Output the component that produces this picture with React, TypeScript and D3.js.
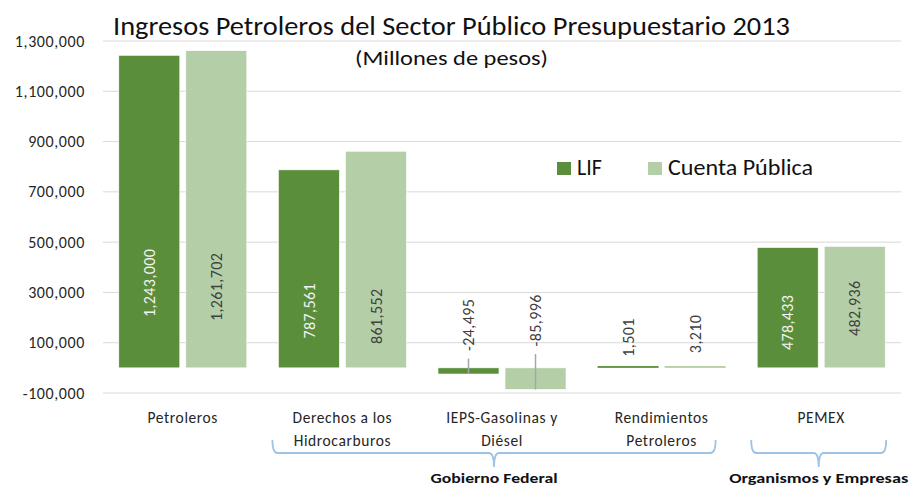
import React from "react";
import * as d3 from "d3";

// ---- data ----
const categories = ["Petroleros", "Derechos", "IEPS", "Rendimientos", "PEMEX"];
const categoryLines: string[][] = [
  ["Petroleros"],
  ["Derechos a los", "Hidrocarburos"],
  ["IEPS-Gasolinas y", "Diésel"],
  ["Rendimientos", "Petroleros"],
  ["PEMEX"],
];
const lifValues = [1243000, 787561, -24495, 1501, 478433];
const cpValues = [1261702, 861552, -85996, 3210, 482936];
const seriesNames = ["LIF", "Cuenta Pública"];
const yTicks = [-100000, 100000, 300000, 500000, 700000, 900000, 1100000, 1300000];
const groups = [
  { label: "Gobierno Federal", from: 1, to: 3 },
  { label: "Organismos y Empresas", from: 4, to: 4 },
];
const titleText = "Ingresos Petroleros del Sector Público Presupuestario 2013";
const subtitleText = "(Millones de pesos)";

// label anchor (value units) for the centre of each rotated data label
const lifLabelAt = [338000, 227000, 171000, 121000, 181000];
const cpLabelAt = [322000, 205000, 189000, 135000, 237000];

// ---- style ----
const W = 922;
const H = 487;
const FONT = "Calibri, Carlito, Lato, 'Open Sans', sans-serif";
const LIF_COLOR = "#5B8E3A";
const CP_COLOR = "#B4CFA7";
const GRID = "#D9D9D9";
const TEXT = "#262626";
const BRACE = "#9DC3E6";

const fmtBase = d3.format(",");
const fmt = (v: number) => fmtBase(v).replace("\u2212", "-");

export default function App() {
  const plotLeft = 103;
  const plotRight = 901;
  const y = d3.scaleLinear().domain([-100000, 1300000]).range([393, 41]);
  const x0 = d3
    .scaleBand<string>()
    .domain(categories)
    .range([plotLeft, plotRight])
    .paddingInner(0.198)
    .paddingOuter(0.099);
  const x1 = d3
    .scaleBand<string>()
    .domain(["LIF", "CP"])
    .range([0, x0.bandwidth()])
    .paddingInner(0.09);

  const series = [
    { key: "LIF", values: lifValues, color: LIF_COLOR, labelColor: "#F2F2F2", labelAt: lifLabelAt },
    { key: "CP", values: cpValues, color: CP_COLOR, labelColor: "#404040", labelAt: cpLabelAt },
  ];

  const bars: React.ReactNode[] = [];
  const labels: React.ReactNode[] = [];
  series.forEach((s) => {
    s.values.forEach((v, i) => {
      const bx = (x0(categories[i]) ?? 0) + (x1(s.key) ?? 0);
      const bw = x1.bandwidth();
      const top = y(Math.max(0, v));
      const bot = y(Math.min(0, v));
      const h = bot - top;
      const tiny = h < 3;
      bars.push(
        <rect
          key={`b-${s.key}-${i}`}
          x={bx}
          y={tiny ? bot - 1.8 : top}
          width={bw}
          height={tiny ? 1.8 : h}
          fill={s.color}
          stroke={tiny ? "none" : "#ffffff"}
          strokeWidth={0.6}
        />
      );
      const cx = bx + bw / 2;
      const cy = y(s.labelAt[i]);
      const big = Math.abs(v) > 100000;
      const txt = fmt(v);
      labels.push(
        <text
          key={`l-${s.key}-${i}`}
          transform={`translate(${cx},${cy}) rotate(-90)`}
          textAnchor="middle"
          dy="0.35em"
          fontSize={16}
          letterSpacing={0.4}
          fontFamily={FONT}
          fill={big ? s.labelColor : "#404040"}
        >
          {txt}
        </text>
      );
      if (v < 0) {
        const textHalf = txt.length * 4.1;
        labels.push(
          <line
            key={`ll-${s.key}-${i}`}
            x1={cx}
            x2={cx}
            y1={cy + textHalf + 5}
            y2={y(v)}
            stroke="#A6A6A6"
            strokeWidth={1.5}
          />
        );
      }
    });
  });

  const bracePath = (xa: number, xb: number) => {
    const yTop = 440;
    const yMid = 453;
    const yTip = 467;
    const r = 5;
    const xm = (xa + xb) / 2;
    return `M${xa},${yTop} Q${xa},${yMid} ${xa + r},${yMid} L${xm - r},${yMid} Q${xm},${yMid} ${xm},${yTip} Q${xm},${yMid} ${xm + r},${yMid} L${xb - r},${yMid} Q${xb},${yMid} ${xb},${yTop}`;
  };

  return (
    <svg
      width={W}
      height={H}
      style={{ position: "absolute", left: 0, top: 0, background: "#fff" }}
    >
      {yTicks.map((t) => (
        <line key={`g${t}`} x1={plotLeft} x2={plotRight} y1={y(t)} y2={y(t)} stroke={GRID} strokeWidth={1} />
      ))}
      {yTicks.map((t) => (
        <text
          key={`yt${t}`}
          x={85}
          y={y(t)}
          dy="0.35em"
          textAnchor="end"
          fontSize={16}
          letterSpacing={0.6}
          fontFamily={FONT}
          fill={TEXT}
        >
          {fmt(t)}
        </text>
      ))}
      <text x={113} y={35} fontSize={26} fontFamily={FONT} fill="#111" textLength={677} lengthAdjust="spacingAndGlyphs">
        {titleText}
      </text>
      <text x={355} y={65} fontSize={20} fontFamily={FONT} fill="#111" textLength={193} lengthAdjust="spacingAndGlyphs">
        {subtitleText}
      </text>
      {bars}
      {labels}
      <rect x={557} y={162} width={14} height={13} fill={LIF_COLOR} />
      <text x={577} y={175} fontSize={22} fontFamily={FONT} fill="#111">
        {seriesNames[0]}
      </text>
      <rect x={648} y={162} width={14} height={13} fill={CP_COLOR} />
      <text x={668} y={175} fontSize={22} fontFamily={FONT} fill="#111" textLength={145} lengthAdjust="spacingAndGlyphs">
        {seriesNames[1]}
      </text>
      {categories.map((c, i) => {
        const cx = (x0(c) ?? 0) + x0.bandwidth() / 2;
        return (
          <text key={`c${c}`} textAnchor="middle" fontSize={15.5} letterSpacing={0.6} fontFamily={FONT} fill={TEXT}>
            {categoryLines[i].map((ln, j) => (
              <tspan key={j} x={cx} y={423 + j * 23}>
                {ln}
              </tspan>
            ))}
          </text>
        );
      })}
      {groups.map((g) => {
        const xa = (x0(categories[g.from]) ?? 0) - 6;
        const xb = (x0(categories[g.to]) ?? 0) + x0.bandwidth() - (g.from === g.to ? -1 : 10);
        const xm = (xa + xb) / 2;
        return (
          <g key={g.label}>
            <path d={bracePath(xa, xb)} fill="none" stroke={BRACE} strokeWidth={1.8} />
            <text
              x={xm}
              y={483}
              textAnchor="middle"
              fontSize={14}
              fontWeight="bold"
              fontFamily={FONT}
              fill="#111"
              textLength={g.from === g.to ? 179 : 127}
              lengthAdjust="spacingAndGlyphs"
            >
              {g.label}
            </text>
          </g>
        );
      })}
    </svg>
  );
}
